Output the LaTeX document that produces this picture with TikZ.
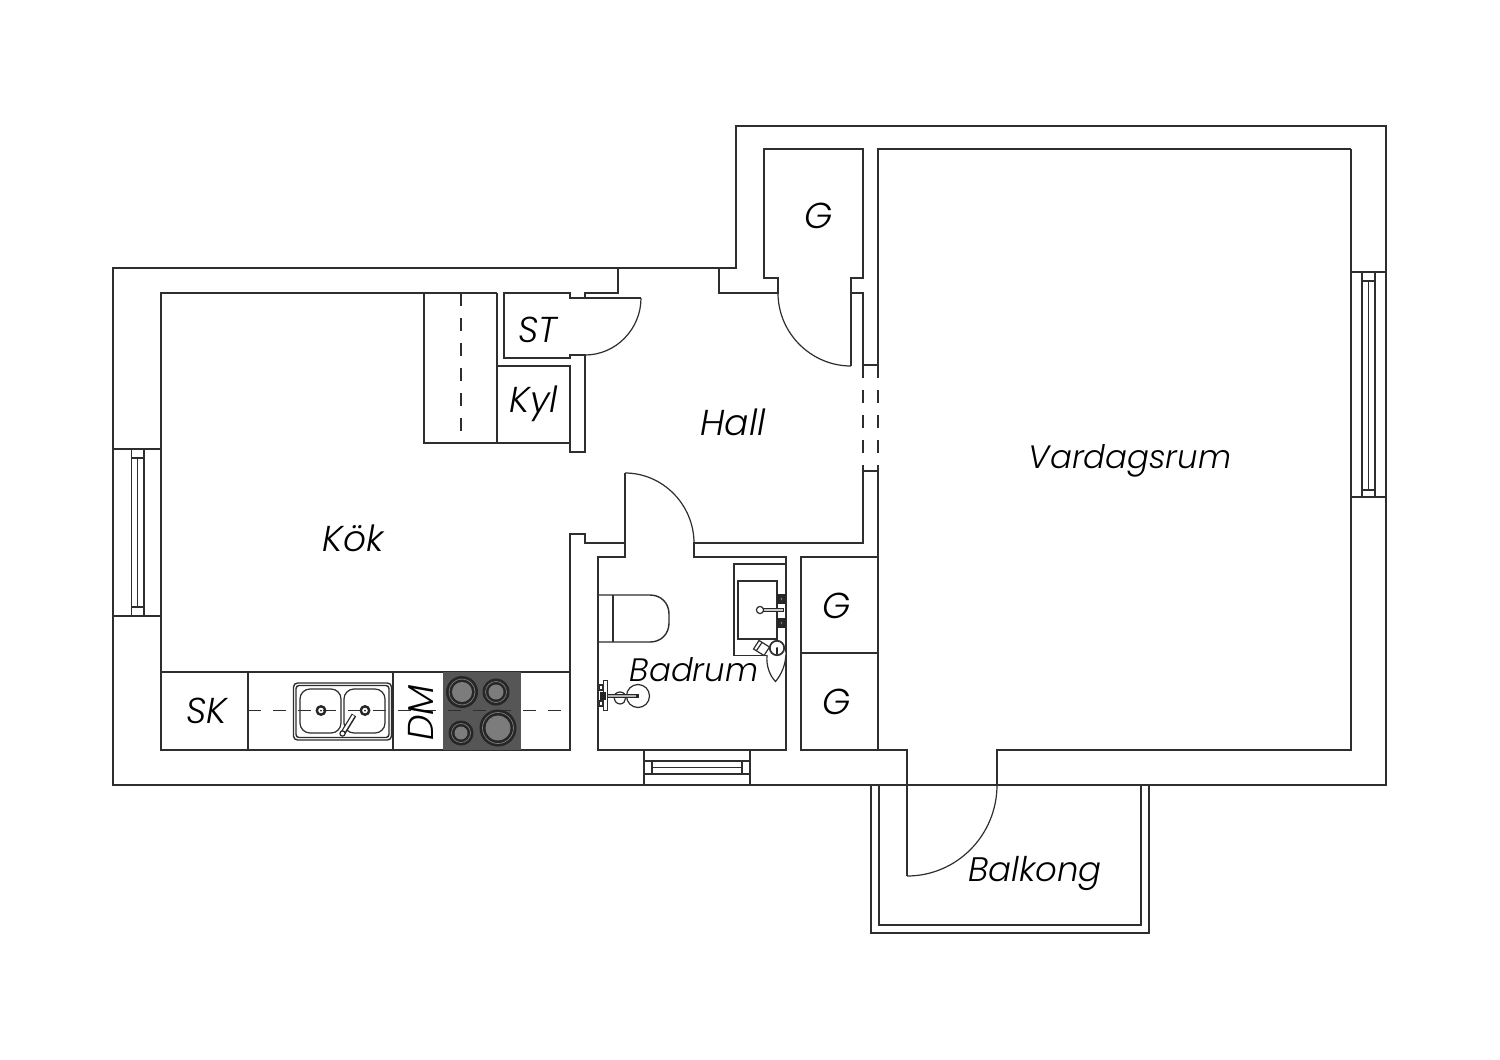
\documentclass[tikz,border=0pt]{standalone}
\usepackage{fontspec}
\setmainfont{Poppins}[UprightFont=* Light,ItalicFont=* Light Italic,BoldFont=* Light,BoldItalicFont=* Light Italic]
\definecolor{wall}{HTML}{2E2E2E}
\definecolor{hob}{HTML}{565656}
\definecolor{plate}{HTML}{7C7C7C}
\definecolor{ringc}{HTML}{262626}
\tikzset{
  wallline/.style={draw=wall,line width=0.85pt,line join=miter},
  thinline/.style={draw=wall,line width=0.6pt},
  dashline/.style={draw=wall,line width=0.7pt,dash pattern=on 6.5pt off 6pt},
  roomlabel/.style={font=\fontsize{18}{20}\selectfont\itshape,text=black,inner sep=0pt},
  widelabel/.style={font=\fontsize{16.2}{20}\selectfont\itshape,text=black,inner sep=0pt},
  burner/.style={draw=ringc,line width=0.8pt,fill=plate}
}
\newcommand{\plate}[3]{%
  \fill[ringc] (#1,#2) circle[radius=#3];
  \draw[plate,line width=0.35pt] (#1,#2) circle[radius=#3-3];
  \fill[plate] (#1,#2) circle[radius=#3-6];
}
\begin{document}
\begin{tikzpicture}[x=0.5pt,y=-0.5pt]
\useasboundingbox (0,0) rectangle (1500,1060);
\fill[white] (0,0) rectangle (1500,1060);
% outer wall
\draw[wallline] (113,268) -- (736,268) -- (736,126) -- (1386,126) -- (1386,785) -- (113,785) -- cycle;
% kitchen
\draw[wallline] (497,293) -- (161,293) -- (161,750) -- (570,750) -- (570,534) -- (585,534) -- (585,543) -- (625,543) -- (625,473);
\draw[wallline] (625,543) -- (625,557) -- (598,557) -- (598,750) -- (786,750) -- (786,557) -- (694,557) -- (694,543) -- (863,543) -- (863,471) -- (878,471);
% counter
\draw[wallline] (161,672) -- (570,672);
\draw[wallline] (248,672) -- (248,750);
\draw[wallline] (393,672) -- (393,750);
% fridge block
\draw[wallline] (424,293) -- (424,443) -- (570,443);
\draw[wallline] (497,293) -- (497,443);
\draw[wallline] (497,366) -- (570,366) -- (570,452) -- (585,452) -- (585,355) -- (570,355) -- (570,358) -- (504,358) -- (504,293) -- (570,293) -- (570,298) -- (641,298);
\draw[wallline] (585,298) -- (585,293) -- (618,293) -- (618,268);
\draw[dashline] (461,293) -- (461,438);
% hall top, closet G
\draw[wallline] (719,268) -- (719,293) -- (778,293) -- (778,278) -- (764,278) -- (764,149) -- (863,149) -- (863,278) -- (851,278) -- (851,366);
\draw[wallline] (851,293) -- (863,293) -- (863,365) -- (878,365);
\draw[wallline] (1351,149) -- (878,149) -- (878,365);
\draw[wallline] (878,471) -- (878,750);
\draw[wallline] (1351,149) -- (1351,750) -- (997,750) -- (997,785);
\draw[wallline] (800,750) -- (907,750) -- (907,876);
\draw[dashline] (863,365) -- (863,471);
\draw[dashline] (878,365) -- (878,471);
% wardrobes
\draw[wallline] (878,557) -- (801,557) -- (801,750);
\draw[wallline] (801,653) -- (878,653);
% door swings
\draw[thinline] (641,298) .. controls (641,329) and (616,355) .. (585,355);
\draw[thinline] (625,473) .. controls (663,473) and (694,505) .. (694,543);
\draw[thinline] (778,293) .. controls (778,333) and (811,366) .. (851,366);
\draw[thinline] (997,785) .. controls (997,835) and (957,876) .. (907,876);
% balcony
\draw[wallline] (871,785) -- (871,933) -- (1149,933) -- (1149,785);
\draw[wallline] (879,785) -- (879,925) -- (1141,925) -- (1141,785);
% left window
\draw[wallline] (113,449) -- (161,449);
\draw[wallline] (113,616) -- (161,616);
\draw[wallline] (131.5,449) -- (131.5,616);
\draw[wallline] (144,449) -- (144,616);
\draw[thinline] (131.5,458) rectangle (144,607);
\draw[thinline] (137.7,458) -- (137.7,607);
% right window
\draw[wallline] (1351,272) -- (1386,272);
\draw[wallline] (1351,497) -- (1386,497);
\draw[wallline] (1362,272) -- (1362,497);
\draw[wallline] (1375,272) -- (1375,497);
\draw[thinline] (1362,281) rectangle (1375,490);
\draw[thinline] (1368.5,281) -- (1368.5,490);
% bottom window
\draw[wallline] (644,750) -- (644,785);
\draw[wallline] (750,750) -- (750,785);
\draw[wallline] (644,761) -- (750,761);
\draw[wallline] (644,774) -- (750,774);
\draw[thinline] (652,761) rectangle (742,774);
\draw[thinline] (652,767.5) -- (742,767.5);
% hob
\fill[hob] (443,672) rectangle (521,750);
\draw[dashline] (248,710.5) -- (570,710.5);
\plate{462}{692}{16}
\plate{496}{692}{13.5}
\plate{461}{733}{12.5}
\plate{498}{728}{18.5}
% kitchen sink
\draw[wall,line width=0.7pt,rounded corners=2pt] (293.5,683) rectangle (391.5,740);
\draw[wall,line width=0.7pt,rounded corners=1.5pt] (296,685.5) rectangle (389,737.5);
\draw[thinline,rounded corners=5pt] (300,689) rectangle (341,733);
\draw[thinline,rounded corners=5pt] (344,689) rectangle (385,733);
\foreach \cx in {321,365} {
  \draw[draw=ringc,line width=1.2pt] (\cx,710.5) circle[radius=4.2];
  \fill[ringc] (\cx,710.5) circle[radius=1];
}
\draw[ringc,line width=2.6pt] (343,733) -- (354,715);
\draw[white,line width=1.2pt] (344,731) -- (353.5,715.5);
\draw[thinline,fill=white] (342.5,733.5) circle[radius=2.6];
% toilet
\draw[wallline,line width=0.7pt] (598,595) -- (650,595) .. controls (661,595) and (669,603) .. (669,614) -- (669,623) .. controls (669,634) and (661,642) .. (650,642) -- (598,642);
\draw[thinline] (613,595) -- (613,642);
% wash basin
\draw[thinline] (786,564) -- (734,564) -- (734,655.5) -- (786,655.5);
\draw[thinline] (738,581) rectangle (777,639);
\fill[ringc] (777,594) rectangle (786,604);
\fill[ringc] (777,618) rectangle (786,628);
\draw[thinline,fill=white] (781.5,599) circle[radius=1.6];
\draw[thinline,fill=white] (781.5,623) circle[radius=1.6];
\draw[ringc,line width=2.4pt] (760,610) -- (784,610);
\draw[white!80!black,line width=1.3pt] (762,610) -- (783,610);
\draw[thinline,fill=white] (760,610) circle[radius=3.6];
% basin accessories
\draw[thinline,fill=white] (753.5,649) -- (759,640.5) -- (769.5,647) -- (764,655.5) -- cycle;
\draw[thinline] (756.5,650.5) -- (762,642.5);
\draw[thinline,fill=white] (767,655) .. controls (766,666) and (770,676) .. (775.5,681.5) .. controls (781,675) and (786,665) .. (786,652);
\draw[wallline,fill=white] (777,648) circle[radius=7.2];
\draw[ringc,line width=0.8pt] (777,648) -- (777,654);
\fill[ringc] (777,648) circle[radius=1];
% bidet shower
\draw[thinline] (638,696) circle[radius=11.5];
\draw[thinline] (620,692) .. controls (612,692) and (612,703) .. (620,704) .. controls (627,704) and (628,692) .. (620,692);
\draw[ringc,line width=2pt] (606,696) -- (639,696);
\draw[white!70!black,line width=0.7pt] (608,696) -- (636,696);
\draw[thinline,fill=white] (603.5,680.5) rectangle (607.5,710.5);
\draw[thinline,fill=white] (599,685) rectangle (603,690);
\draw[thinline,fill=white] (599,701) rectangle (603,706);
\fill[ringc] (600,692) rectangle (606,700);
% labels
\node[roomlabel] (kok) at (353,538) {Kök};
\node[roomlabel] (hall) at (733,422) {Hall};
\node[widelabel] (vardagsrum) at (1130,461) {Vardagsrum};
\node[roomlabel] (g1) at (819,216) {G};
\node[roomlabel] (st) at (538,330) {ST};
\node[roomlabel] (kyl) at (534,404) {Kyl};
\node[roomlabel] (sk) at (207,711) {SK};
\node[roomlabel,rotate=90] (dm) at (421,713) {DM};
\node[widelabel] (badrum) at (694,670) {Badrum};
\node[roomlabel] (g2) at (837,606) {G};
\node[roomlabel] (g3) at (837,702) {G};
\node[roomlabel,font=\fontsize{17}{20}\selectfont\itshape] (balkong) at (1035,873) {Balkong};
\end{tikzpicture}
\end{document}
